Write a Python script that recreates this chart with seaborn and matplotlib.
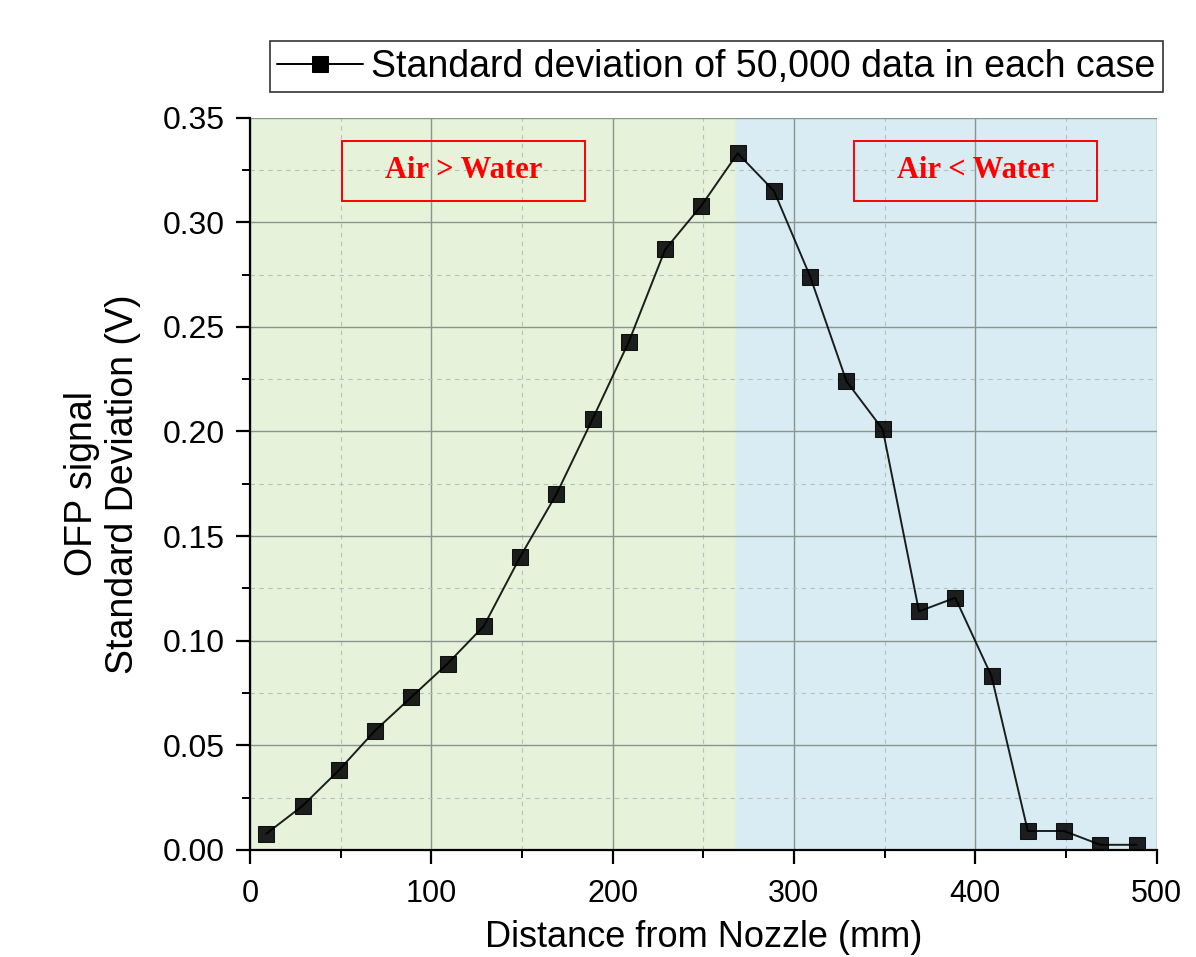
import numpy as np
import pandas as pd
import matplotlib
matplotlib.use("Agg")
import matplotlib.pyplot as plt
import seaborn as sns
from matplotlib.ticker import MultipleLocator
from matplotlib.patches import Rectangle

# Data
distance = [9, 29, 49, 69, 89, 109, 129, 149, 169, 189, 209, 229, 249,
            269, 289, 309, 329, 349, 369, 389, 409, 429, 449, 469, 489]
std_dev = [0.0077, 0.021, 0.038, 0.057, 0.073, 0.089, 0.107, 0.140, 0.170,
           0.206, 0.243, 0.287, 0.308, 0.333, 0.315, 0.274, 0.224, 0.201,
           0.114, 0.1205, 0.083, 0.009, 0.009, 0.0024, 0.0024]
split_x = 268
region_labels = ["Air > Water", "Air < Water"]
region_x = [118, 400]
legend_label = "Standard deviation of 50,000 data in each case"

df = pd.DataFrame({"distance": distance, "std": std_dev})

sns.set_style("ticks")
plt.rcParams["font.family"] = ["Liberation Sans", "DejaVu Sans"]
plt.rcParams["text.color"] = "black"
plt.rcParams["axes.labelcolor"] = "black"
plt.rcParams["xtick.color"] = "black"
plt.rcParams["ytick.color"] = "black"

fig = plt.figure(figsize=(11.96, 9.57), dpi=100)
ax = fig.add_axes([0.209, 0.112, 0.758, 0.765])

# shaded regions
ax.axvspan(0, split_x, color="#e6f2da", zorder=0)
ax.axvspan(split_x, 500, color="#d9ecf3", zorder=0)

# grid
ax.xaxis.set_major_locator(MultipleLocator(100))
ax.xaxis.set_minor_locator(MultipleLocator(50))
ax.yaxis.set_major_locator(MultipleLocator(0.05))
ax.yaxis.set_minor_locator(MultipleLocator(0.025))
ax.grid(which="major", color="#8a9590", linewidth=1.0, linestyle="-", zorder=1)
ax.grid(which="minor", color="#b8c0bc", linewidth=0.8, linestyle=(0, (4, 4)), zorder=1)
ax.set_axisbelow(True)

sns.lineplot(data=df, x="distance", y="std", ax=ax, color="black",
             linewidth=1.4, marker="s", markersize=12, markerfacecolor="black",
             markeredgecolor="black", alpha=0.88, label=legend_label, zorder=3)

ax.set_xlim(0, 500)
ax.set_ylim(0, 0.35)
yt = np.arange(0, 0.351, 0.05)
ax.set_yticks(yt)
ax.set_yticklabels([f"{v:.2f}" for v in yt])

for side in ["top", "right"]:
    ax.spines[side].set_visible(False)
for side in ["left", "bottom"]:
    ax.spines[side].set_color("black")
    ax.spines[side].set_linewidth(1.6)

ax.tick_params(which="major", direction="out", length=10, width=1.6,
               color="black")
ax.tick_params(which="minor", direction="out", length=6, width=1.4, color="black")
ax.tick_params(axis="x", which="major", labelsize=22, pad=11)
ax.tick_params(axis="y", which="major", labelsize=23, pad=8)

ax.set_xlabel("Distance from Nozzle (mm)", fontsize=26, labelpad=8)
ax.set_ylabel("OFP signal\nStandard Deviation (V)", fontsize=27, labelpad=16,
              linespacing=1.15)

# region labels with red frames
for xc, txt in zip(region_x, region_labels):
    ax.text(xc, 0.3247, txt, ha="center", va="center", fontsize=22,
            fontweight="bold", color="red", family="Liberation Serif", zorder=4)
    ax.add_patch(Rectangle((xc - 67, 0.3104), 134, 0.0286, fill=False,
                           edgecolor="red", linewidth=1.4, zorder=4))

# legend above the axes
ax.get_legend().remove()
handles, labels = ax.get_legend_handles_labels()
leg = fig.legend(handles, labels, loc="upper right",
                 bbox_to_anchor=(0.972, 0.957), fontsize=27, frameon=True,
                 fancybox=False, edgecolor="black", handlelength=2.3,
                 handletextpad=0.2, borderpad=0.2, borderaxespad=0)
leg.get_frame().set_linewidth(1.2)
for h in leg.legend_handles:
    h.set_alpha(1)
    h.set_markersize(11)

fig.savefig("out.png", dpi=100)
